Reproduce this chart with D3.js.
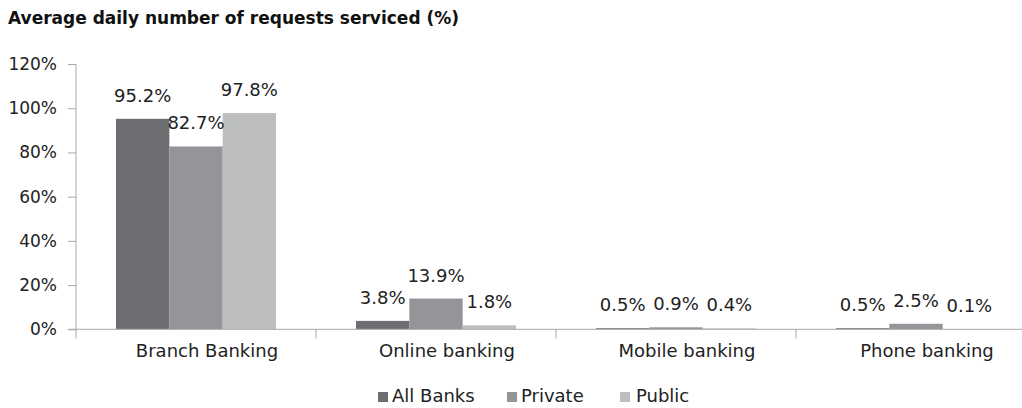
<!DOCTYPE html>
<html>
<head>
<meta charset="utf-8">
<script src="https://cdn.jsdelivr.net/npm/d3@7"></script>
<style>
  body { margin: 0; background: #fff; }
  svg { display: block; }
</style>
</head>
<body>
<div id="chartContainer"></div>
<script>
// Chart data
const categories = ["Branch Banking", "Online banking", "Mobile banking", "Phone banking"];
const seriesNames = ["All Banks", "Private", "Public"];
const allBanks = [95.2, 3.8, 0.5, 0.5];
const privateBanks = [82.7, 13.9, 0.9, 2.5];
const publicBanks = [97.8, 1.8, 0.4, 0.1];
const yTicks = [0, 20, 40, 60, 80, 100, 120];
const colors = ["#6d6e71", "#939598", "#bcbec0"];

function createChart() {
    const width = 1022;
    const height = 408;
    const marginLeft = 76;
    const plotTop = 64;
    const plotBottom = 329.3;
    const font = "DejaVu Sans";
    const axisColor = "#a7a9ac";

    const seriesValues = [allBanks, privateBanks, publicBanks];
    const rows = [];
    categories.forEach((c, i) => {
        seriesNames.forEach((s, j) => rows.push({ cat: c, series: s, value: seriesValues[j][i], j }));
    });

    // Each category gets 240px, the last one runs off the right edge
    const x = d3.scaleBand()
        .domain(categories)
        .range([marginLeft, marginLeft + 240 * categories.length]);

    const x1 = d3.scaleBand()
        .domain(seriesNames)
        .range([40, x.bandwidth() - 40]);

    const y = d3.scaleLinear()
        .domain([0, 120])
        .range([plotBottom, plotTop]);

    const svg = d3.create("svg")
        .attr("width", width)
        .attr("height", height)
        .attr("viewBox", [0, 0, width, height]);

    // Title
    svg.append("text")
        .attr("x", 8)
        .attr("y", 24)
        .attr("font-family", font)
        .attr("font-weight", "bold")
        .attr("font-size", 17)
        .attr("fill", "#111")
        .text("Average daily number of requests serviced (%)");

    // Y axis
    const yAxis = svg.append("g")
        .attr("transform", `translate(${marginLeft},0)`)
        .call(d3.axisLeft(y).tickValues(yTicks).tickSize(8).tickPadding(11).tickFormat(d => d + "%"));
    yAxis.select(".domain").remove();
    yAxis.selectAll(".tick line").attr("stroke", axisColor);
    yAxis.selectAll(".tick text")
        .attr("font-family", font)
        .attr("font-size", 17)
        .attr("fill", "#222");

    yAxis.append("line")
        .attr("x1", 0).attr("x2", 0)
        .attr("y1", plotTop).attr("y2", plotBottom + 9)
        .attr("stroke", axisColor);

    // Bars
    svg.append("g")
        .selectAll("rect")
        .data(rows)
        .join("rect")
        .attr("x", d => x(d.cat) + x1(d.series))
        .attr("y", d => y(d.value))
        .attr("width", x1.bandwidth())
        .attr("height", d => y(0) - y(d.value))
        .attr("fill", d => colors[d.j]);

    // X axis line and separators
    svg.append("line")
        .attr("x1", marginLeft - 8).attr("x2", width)
        .attr("y1", y(0)).attr("y2", y(0))
        .attr("stroke", axisColor);

    svg.append("g")
        .selectAll("line")
        .data(categories.slice(1))
        .join("line")
        .attr("x1", d => x(d)).attr("x2", d => x(d))
        .attr("y1", y(0)).attr("y2", y(0) + 9)
        .attr("stroke", axisColor);

    // Category labels
    svg.append("g")
        .selectAll("text")
        .data(categories)
        .join("text")
        .attr("x", d => x(d) + x.bandwidth() / 2 + 11)
        .attr("y", 357)
        .attr("text-anchor", "middle")
        .attr("font-family", font)
        .attr("font-size", 18)
        .attr("fill", "#222")
        .text(d => d);

    // Value labels
    svg.append("g")
        .selectAll("text")
        .data(rows)
        .join("text")
        .attr("x", d => x(d.cat) + x1(d.series) + x1.bandwidth() / 2)
        .attr("y", d => y(d.value) - 17)
        .attr("text-anchor", "middle")
        .attr("font-family", font)
        .attr("font-size", 18)
        .attr("fill", "#222")
        .text(d => d.value.toFixed(1) + "%");

    // Legend
    const legendX = [378, 507, 620];
    const legend = svg.append("g")
        .selectAll("g")
        .data(seriesNames)
        .join("g")
        .attr("transform", (d, i) => `translate(${legendX[i]},0)`);
    legend.append("rect")
        .attr("x", 0).attr("y", 392)
        .attr("width", 10).attr("height", 10)
        .attr("fill", (d, i) => colors[i]);
    legend.append("text")
        .attr("x", d => d === "Public" ? 16 : 14)
        .attr("y", 402)
        .attr("font-family", font)
        .attr("font-size", 18)
        .attr("fill", "#222")
        .text(d => d);

    return svg.node();
}

document.getElementById("chartContainer").appendChild(createChart());
</script>
</body>
</html>
